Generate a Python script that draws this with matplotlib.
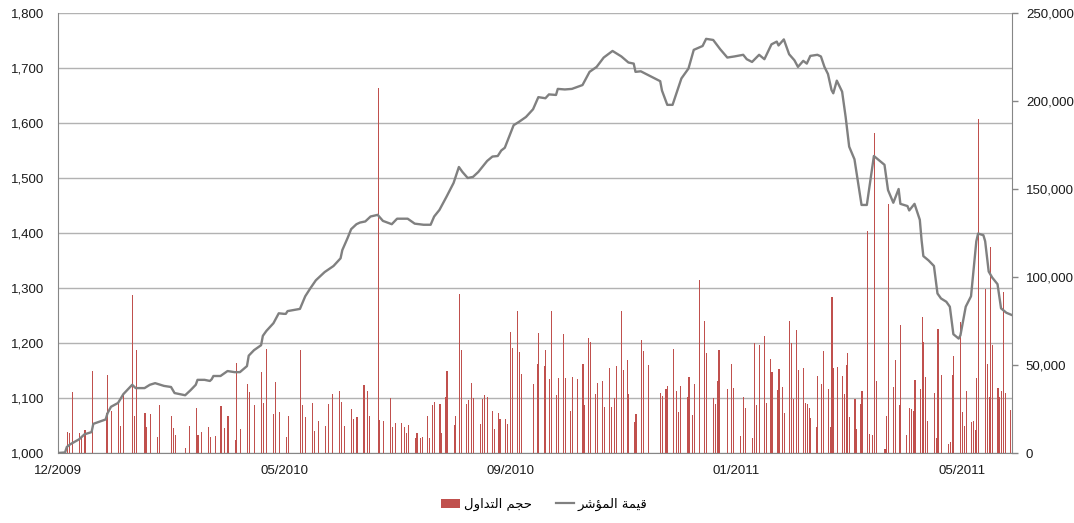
import matplotlib
matplotlib.use("Agg")
import matplotlib.pyplot as plt
from matplotlib.patches import Patch
from matplotlib.lines import Line2D
from matplotlib.ticker import FuncFormatter

plt.rcParams['font.family'] = ['Liberation Sans', 'DejaVu Sans']

# x = trading day offset from the first point of the series
tick_days = [0, 128, 256, 384, 512]
tick_labels = ['12/2009', '05/2010', '09/2010', '01/2011', '05/2011']

# index value (left axis)
line_days = [0, 4, 5, 7, 12, 15, 19, 20, 27, 28, 30, 34, 37, 42, 44, 49, 52, 55, 60, 64,
             66, 72, 75, 78, 79, 83, 86, 87, 88, 92, 96, 100, 103, 107, 108, 111, 115, 116, 118, 122,
             125, 128, 129, 130, 137, 140, 143, 146, 151, 156, 160, 161, 164, 166, 169, 171, 174, 177, 181, 184,
             189, 192, 198, 202, 207, 211, 213, 216, 220, 224, 227, 229, 232, 235, 238, 243, 246, 249, 251, 253,
             258, 261, 265, 269, 272, 276, 278, 282, 283, 287, 291, 297, 301, 305, 309, 314, 319, 323, 326, 327,
             330, 341, 342, 345, 348, 353, 357, 360, 365, 367, 371, 375, 379, 383, 388, 390, 393, 397, 400, 404,
             407, 408, 411, 414, 417, 419, 422, 424, 426, 430, 432, 434, 436, 438, 439, 441, 444, 446, 448, 451,
             453, 455, 458, 462, 468, 470, 473, 476, 477, 481, 482, 485, 488, 489, 490, 493, 496, 498, 500, 503,
             505, 507, 510, 511, 514, 517, 520, 521, 524, 525, 527, 529, 532, 534, 537, 540]
line_vals = [1000, 1001, 1011, 1016, 1025, 1034, 1038, 1053, 1061, 1072, 1084, 1091, 1107, 1124, 1118, 1118, 1124, 1127, 1122, 1120,
             1109, 1105, 1114, 1124, 1133, 1133, 1131, 1134, 1140, 1140, 1149, 1147, 1147, 1158, 1177, 1187, 1196, 1213, 1222, 1236,
             1254, 1253, 1253, 1258, 1262, 1285, 1300, 1314, 1329, 1340, 1354, 1369, 1391, 1407, 1416, 1419, 1421, 1430, 1433, 1422,
             1416, 1426, 1426, 1417, 1415, 1415, 1430, 1442, 1466, 1491, 1520, 1511, 1500, 1502, 1511, 1531, 1539, 1540, 1550, 1555,
             1596, 1602, 1611, 1625, 1647, 1645, 1652, 1651, 1662, 1661, 1662, 1669, 1693, 1702, 1719, 1731, 1721, 1710, 1708, 1693,
             1694, 1676, 1659, 1633, 1633, 1681, 1699, 1733, 1740, 1753, 1751, 1734, 1719, 1721, 1724, 1716, 1711, 1724, 1716, 1743,
             1748, 1741, 1752, 1725, 1714, 1702, 1713, 1708, 1722, 1724, 1721, 1702, 1689, 1660, 1654, 1677, 1657, 1611, 1557, 1534,
             1493, 1451, 1451, 1540, 1524, 1478, 1455, 1480, 1453, 1449, 1441, 1453, 1424, 1387, 1358, 1350, 1340, 1290, 1281, 1275,
             1266, 1216, 1208, 1214, 1266, 1285, 1385, 1399, 1396, 1385, 1330, 1319, 1307, 1263, 1255, 1251]

# trading volume (right axis)
vol_days = [5, 6, 8, 12, 13, 15, 19, 27, 28, 30, 34, 35, 37, 42, 43, 44, 49, 50, 52, 56,
            57, 64, 65, 66, 72, 74, 78, 79, 81, 85, 86, 89, 92, 94, 96, 100, 101, 103, 107, 108,
            111, 115, 116, 118, 122, 123, 125, 129, 130, 137, 138, 140, 144, 145, 147, 151, 153, 155, 159, 160,
            162, 166, 167, 169, 173, 175, 176, 181, 182, 184, 188, 189, 191, 194, 196, 197, 198, 202, 203, 205,
            206, 209, 210, 212, 213, 216, 217,
            219, 220, 224, 225, 227, 228, 231, 232, 234, 235, 239, 240, 241, 243, 246, 247, 249, 250, 253, 254,
            256, 257, 260, 261, 262, 269, 271, 272, 275, 276, 278, 279, 282, 283, 286, 287, 290, 291, 294, 297,
            298, 300, 301, 304, 305, 308, 309, 312, 313, 315, 316, 319, 320, 322, 323,
            326, 327, 330, 331, 334, 341, 342, 344, 345, 348, 350, 351, 352, 356, 357, 359, 360, 363, 366, 367,
            371, 372, 373, 374, 379, 381, 382, 386, 388, 389, 393, 394, 395, 397, 400, 401, 403, 404, 407, 408,
            410, 411, 414, 415, 416, 418, 419, 422, 423, 424, 425, 426, 429, 430, 432, 433,
            436, 437, 438, 439, 441, 444, 445, 446, 447, 448, 451, 452, 454, 455, 458, 459, 461, 462, 463, 468,
            469, 470, 473, 474, 476, 477, 480, 482, 483, 484, 485, 488, 489, 490, 491, 492, 496, 497, 498, 500,
            504, 505, 506, 507, 511, 512, 513, 514, 517, 518, 519, 520, 521, 525, 526, 527, 528, 529, 532, 533,
            534, 535, 536, 539]
vol_values = [11900, 11400, 34500, 11400, 8700, 12900, 46600, 22700, 44300, 23900, 28400, 15300, 34100, 89800, 21000, 58500, 22700, 14800, 22200, 9100,
              27300, 21000, 14200, 10200, 2800, 15300, 25600, 10200, 11900, 14800, 9100, 9700, 26700, 14200, 21000, 7400, 51100, 13600, 39200, 34700,
              27300, 46000, 28400, 59100, 22200, 40300, 23300, 9100, 21000, 58500, 27300, 20500, 28400, 12500, 18200, 15300, 27800, 33500, 35200, 29000,
              15300, 25000, 19300, 20500, 38600, 35200, 21000, 207400, 18800, 18200, 31300, 14800, 17000, 17000, 14800, 11400, 15900, 8500, 11400, 8500,
              9100, 21000, 8500, 27300, 29000, 27800, 11400,
              31800, 46600, 15900, 21000, 90300, 58500, 27800, 30100, 39800, 31300, 16500, 30700, 33000, 31800, 23900, 13600, 22700, 19300, 19300, 16500,
              68800, 59700, 80700, 57400, 44900, 39200, 50600, 68200, 49400, 58500, 42000, 80700, 33000, 42600, 67600, 42600, 23900, 43200, 42000, 50600,
              27300, 65300, 63100, 33500, 39800, 40900, 26100, 48300, 26100, 31300, 49400, 80700, 47200, 52800, 33500,
              17600, 22200, 64200, 58000, 50000, 34100, 32400, 36400, 38100, 59100, 35200, 23300, 38100, 31800, 43200, 21600, 39200, 98300, 75000, 56800,
              31300, 27800, 40900, 58500, 36400, 50600, 36900, 9700, 31800, 25600, 8500, 62500, 27300, 61400, 66500, 28400, 53400, 46000, 35800, 47700,
              37500, 22700, 75000, 62500, 30700, 69900, 47200, 48300, 28400, 27800, 25600, 19900, 14800, 43800, 39200, 58000,
              36400, 14800, 88600, 48300, 48900, 43800, 33500, 50000, 56800, 20500, 30700, 13600, 27800, 35200, 126300, 10800, 10200, 182000, 40900, 2300,
              21000, 141500, 37500, 52800, 27300, 72700, 10200, 25600, 25000, 23900, 41500, 36400, 77300, 63100, 43200, 18200, 34100, 8500, 70500, 44300,
              5100, 6300, 44300, 55100, 74400, 23300, 15300, 35200, 17600, 18200, 13100, 42600, 190000, 93200, 50600, 31800, 117000, 61400, 37100, 32000,
              35400, 91700, 34300, 24600]

vol_label = 'حجم التداول'
idx_label = 'قيمة المؤشر'

RED = '#C0504D'
GREY_LINE = '#808080'
AXIS_GREY = '#868686'
GRID_GREY = '#B2B2B2'

# minimal arabic shaping (matplotlib has no bidi/shaping)
AR_FORMS = {
    'ا': (0xFE8D, 0xFE8E, None, None), 'ح': (0xFEA1, 0xFEA2, 0xFEA3, 0xFEA4),
    'ج': (0xFE9D, 0xFE9E, 0xFE9F, 0xFEA0), 'م': (0xFEE1, 0xFEE2, 0xFEE3, 0xFEE4),
    'ل': (0xFEDD, 0xFEDE, 0xFEDF, 0xFEE0), 'ت': (0xFE95, 0xFE96, 0xFE97, 0xFE98),
    'د': (0xFEA9, 0xFEAA, None, None), 'و': (0xFEED, 0xFEEE, None, None),
    'ق': (0xFED5, 0xFED6, 0xFED7, 0xFED8), 'ي': (0xFEF1, 0xFEF2, 0xFEF3, 0xFEF4),
    'ة': (0xFE93, 0xFE94, None, None), 'ؤ': (0xFE85, 0xFE86, None, None),
    'ش': (0xFEB5, 0xFEB6, 0xFEB7, 0xFEB8), 'ر': (0xFEAD, 0xFEAE, None, None),
}


def shape_ar(s):
    out = []
    for i, ch in enumerate(s):
        f = AR_FORMS.get(ch)
        if f is None:
            out.append(ch)
            continue
        prev = AR_FORMS.get(s[i - 1]) if i > 0 else None
        nxt = AR_FORMS.get(s[i + 1]) if i + 1 < len(s) else None
        pj = prev is not None and prev[2] is not None
        nj = nxt is not None and f[2] is not None
        if pj and nj:
            code = f[3]
        elif pj:
            code = f[1]
        elif nj:
            code = f[2]
        else:
            code = f[0]
        out.append(chr(code))
    return ''.join(out)[::-1]


fig = plt.figure(figsize=(10.74, 5.23), dpi=100)
ax = fig.add_axes([58 / 1074, 70 / 523, 954 / 1074, 440 / 523])
axv = ax.twinx()
axl = ax.twinx()

# left scale: grid + labels
ax.set_ylim(1000, 1800)
ax.set_yticks(range(1000, 1801, 100))
ax.yaxis.set_major_formatter(FuncFormatter(lambda v, p: f'{v:,.0f}'))
ax.yaxis.grid(True, color=GRID_GREY, lw=1)
ax.set_axisbelow(True)
ax.set_xlim(0, 540.2)
ax.set_xticks(tick_days)
ax.set_xticklabels(tick_labels)
ax.tick_params(axis='y', length=0, pad=10, labelsize=9.5, labelcolor='#1a1a1a')
ax.tick_params(axis='x', length=0, pad=9, labelsize=9.5, labelcolor='#1a1a1a')
for s in ['top', 'right']:
    ax.spines[s].set_visible(False)
for s in ['left', 'bottom']:
    ax.spines[s].set_color(AXIS_GREY)

# right scale: volume bars (thin bars, 1px outline gives a crisp stroke)
axv.bar(vol_days, vol_values, width=0.05, color=RED, edgecolor=RED,
        linewidth=0.72, antialiased=False)
axv.set_ylim(0, 250000)
axv.set_yticks(range(0, 250001, 50000))
axv.yaxis.set_major_formatter(FuncFormatter(lambda v, p: f'{v:,.0f}'))
axv.tick_params(axis='y', length=4, width=1, color=AXIS_GREY, pad=6, labelsize=9.5, labelcolor='#1a1a1a')
for s in ['top', 'left', 'bottom']:
    axv.spines[s].set_visible(False)
axv.spines['right'].set_color(AXIS_GREY)

# index line on top
axl.plot(line_days, line_vals, color=GREY_LINE, lw=1.7, solid_joinstyle='round')
axl.set_ylim(1000, 1800)
axl.yaxis.set_visible(False)
for s in axl.spines.values():
    s.set_visible(False)

handles = [Patch(facecolor=RED, edgecolor='none'), Line2D([], [], color=GREY_LINE, lw=1.6)]
fig.legend(handles, [shape_ar(vol_label), shape_ar(idx_label)], loc='center',
           bbox_to_anchor=(0.507, 0.035), ncol=2, frameon=False,
           prop={'family': 'DejaVu Sans', 'size': 9.5},
           handlelength=1.4, handleheight=0.7, handletextpad=0.3, columnspacing=1.8)

fig.savefig('out.png', dpi=100)
